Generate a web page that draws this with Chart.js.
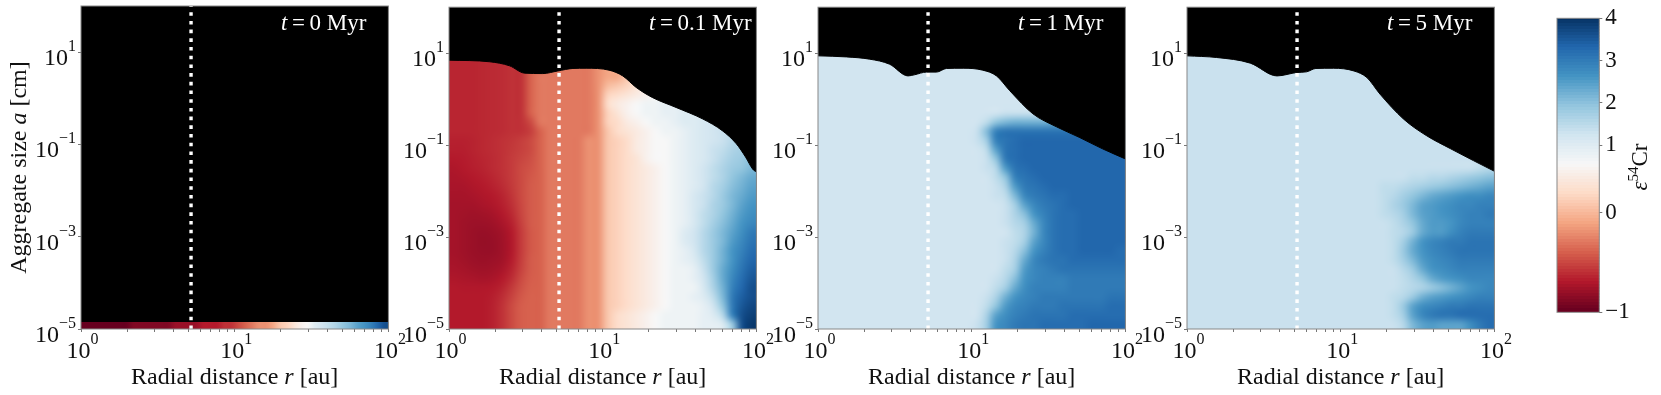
<!DOCTYPE html>
<html>
<head>
<meta charset="utf-8">
<script src="https://cdn.jsdelivr.net/npm/chart.js@4/dist/chart.umd.js"></script>
<style>
html,body{margin:0;background:#fff;}
#wrap{position:relative;width:1661px;height:395px;overflow:hidden;}
canvas{position:absolute;top:0;}
</style>
</head>
<body>
<div id="wrap"></div>
<script>
// tick values
const xTickExps = [0,1,2];
const xMinorTicks = [2,3,4,5,6,7,8,9,20,30,40,50,60,70,80,90];
const yTickExps = [-5,-3,-1,1];
const cbarTickValues = [-1,0,1,2,3,4];
const cbarTickFractions = [0,0.338,0.569,0.712,0.855,1];
const timeLabels = ['0','0.1','1','5'];
const snowLine = 5.2;

// colormap stops (RdBu)
const rdbu = ['#67001f','#b2182b','#d6604d','#f4a582','#fddbc7','#f7f7f7','#d1e5f0','#92c5de','#4393c3','#2166ac','#053061'];

// t=0: one row of cells along the bottom, epsilon x 10
const stripValues = [-10,-10,-10,-10,-10,-10,-10,-9,-9,-9,-9,-9,-9,-8,-8,-8,-8,-7,-7,-7,-6,-6,-5,-4,-3,-2,-2,-1,1,2,4,6,7,10,12,14,16,19,21,24,26,29,33,36];

// t=0.1: rows top (a=10^1) to bottom (a=10^-5), epsilon x 10
const rowsB = [
[-6.5,-6.5,-6.5,-6.4,-6.3,-6.2,-6,-6,-4,-4,-3,-3,-3,-3,-3,-2,-1,0,1,3,5,7,8,9,10,11,12,13,14,15,16,17],
[-6.5,-6.5,-6.5,-6.4,-6.3,-6.2,-6,-6,-4,-4,-3,-3,-3,-3,-3,-2,-1,0,1,3,5,7,8,9,10,11,12,13,14,15,16,17],
[-6.5,-6.5,-6.5,-6.4,-6.3,-6.2,-6,-6,-4,-3,-3,-3,-3,-3,-3,-2,-1,-1,1,4,6,7,8,9,10,11,12,13,14,15,16,17],
[-6.5,-6.5,-6.5,-6.4,-6.3,-6.2,-6,-6,-4,-3,-3,-3,-3,-3,-3,-2,0,1,2,4,6,7,8,9,10,11,12,13,14,15,16,17],
[-6.5,-6.5,-6.5,-6.4,-6.3,-6.2,-6,-6,-4,-3,-3,-3,-3,-3,-3,-2,2,3,4,5,6,7,8,9,10,11,12,13,14,15,16,17],
[-6.5,-6.5,-6.5,-6.4,-6.3,-6.2,-6,-6,-4,-3,-3,-3,-3,-3,-3,-2,3,5,6,7,8,8,9,9,10,11,12,13,14,15,16,17],
[-6.5,-6.5,-6.5,-6.4,-6.3,-6.2,-6,-6,-4,-3,-3,-3,-3,-3,-3,-2,2,4,6,7,8,8,9,9,10,10,11,12,13,14,15,16],
[-6.5,-6.5,-6.5,-6.4,-6.3,-6.2,-6,-6,-5,-3,-3,-3,-3,-3,-3,-2,2,3,5,6,7,8,8,9,10,10,11,12,13,14,15,16],
[-6.5,-6.5,-6.5,-6.4,-6.3,-6.2,-6,-6,-5.5,-4,-3,-3,-3,-3,-3,-2,1,3,4,5,6,7,8,8,9,10,11,12,13,14,15,16],
[-6.7,-6.7,-6.6,-6.4,-6.2,-6,-5.8,-5.5,-5,-4,-3,-3,-3,-3,-2,-2,1,2,3,5,6,7,7,8,9,10,11,12,13,15,16,17],
[-6.8,-6.8,-6.6,-6.4,-6.2,-6,-5.7,-5.4,-5,-4,-3,-3,-3,-3,-2,-2,1,2,3,5,6,7,7,8,9,10,11,13,14,16,17,18],
[-7,-6.9,-6.7,-6.5,-6.3,-6,-5.6,-5.2,-4.8,-4,-3,-3,-3,-3,-2,-2,1,2,3,4,6,7,7,8,9,10,11,13,15,17,18,20],
[-7.2,-7,-6.8,-6.6,-6.3,-6,-5.6,-5,-4.6,-4,-3,-3,-3,-3,-2,-2,1,2,3,4,5,6,7,8,9,10,12,14,16,18,19,21],
[-7.3,-7.2,-7,-6.8,-6.5,-6.1,-5.6,-5,-4.4,-4,-3,-3,-3,-3,-2,-2,1,2,3,4,5,6,7,8,9,10,12,14,16,19,21,23],
[-7.4,-7.4,-7.2,-7,-6.7,-6.3,-5.7,-5,-4.3,-4,-3,-3,-3,-3,-2,-2,1,2,3,4,5,6,7,8,9,10,12,15,17,20,22,24],
[-7.5,-7.5,-7.4,-7.2,-7,-6.6,-5.9,-5,-4.3,-4,-3,-3,-3,-3,-2,-2,1,2,3,4,5,6,7,8,9,11,13,15,18,21,23,25],
[-7.6,-7.6,-7.6,-7.4,-7.2,-6.8,-6.1,-5.1,-4.3,-4,-3,-3,-3,-3,-2,-2,1,2,3,4,5,6,7,8,9,11,13,16,18,21,24,26],
[-7.6,-7.7,-7.8,-7.7,-7.5,-7.1,-6.4,-5.2,-4.3,-4,-3,-3,-3,-3,-2,-2,1,2,3,4,5,6,7,8,9,11,14,16,19,22,25,27],
[-7.6,-7.8,-7.9,-7.9,-7.8,-7.4,-6.7,-5.4,-4.3,-4,-3,-3,-3,-3,-2,-2,1,2,3,4,5,6,7,8,9,11,14,17,20,23,26,28],
[-7.6,-7.8,-8,-8.1,-8,-7.7,-7,-5.6,-4.4,-4,-3,-3,-3,-3,-2,-2,1,2,3,4,5,6,7,8,10,12,15,18,21,24,27,30],
[-7.6,-7.8,-8,-8.2,-8.1,-7.8,-7.1,-5.6,-4.4,-4,-3,-3,-3,-3,-2,-2,1,2,3,4,5,6,7,8,10,12,15,18,21,25,28,31],
[-7.6,-7.8,-8,-8.1,-8.1,-7.8,-7.1,-5.6,-4.4,-4,-3,-3,-3,-3,-2,-2,1,2,3,4,5,6,7,8,9,11,15,18,22,26,29,32],
[-7.5,-7.7,-7.9,-8,-7.9,-7.7,-6.9,-5.5,-4.3,-4,-3,-3,-3,-3,-2,-2,1,2,3,4,5,6,7,8,9,10,14,18,22,26,30,33],
[-7.4,-7.5,-7.7,-7.8,-7.7,-7.4,-6.6,-5.3,-4.3,-4,-3,-3,-3,-3,-2,-2,1,2,3,4,5,6,7,8,8,9,13,18,23,27,31,34],
[-7.2,-7.3,-7.4,-7.5,-7.4,-7,-6.2,-5,-4.2,-4,-3,-3,-3,-3,-2,-2,1,2,3,4,5,6,7,8,8,9,12,17,23,28,32,35],
[-7,-7.1,-7.1,-7.1,-7,-6.6,-5.7,-4.7,-4.1,-4,-3,-3,-3,-3,-2,-2,1,2,3,4,5,6,7,8,8,8,11,16,22,29,33,36],
[-7,-7,-7,-7,-6.8,-6.2,-5.3,-4.4,-4,-4,-3,-3,-3,-3,-2,-2,1,2,3,4,5,6,7,8,8,9,10,14,21,30,34,36],
[-7,-7,-7,-7,-6.7,-6,-5,-4.2,-4,-4,-3,-3,-3,-3,-2,-2,1,2,3,4,5,6,7,8,8,8,9,12,19,30,35,37],
[-7,-7,-7,-7,-6.7,-6,-5,-4.2,-4,-4,-3,-3,-3,-3,-2,-2,1,3,4,5,6,7,8,8,8,8,9,10,15,29,36,38],
[-7,-7,-7,-7,-6.7,-6,-5,-4.2,-4,-4,-3,-3,-3,-3,-2,-2,1,3,4,5,6,7,8,8,8,8,9,9,10,18,36,39]
];

// t=1: outer 18 columns per row, inner columns sit at innerC
const innerC = 12;
const rowsC = [
[12,12,12,12,12,12,12,12,12,12,12,12,12,12,12,12,12,12],
[12,12,12,12,12,12,12,12,12,12,12,12,12,12,12,12,12,12],
[12,12,12,12,12,12,12,12,12,12,12,12,12,12,12,12,12,12],
[12,12,12,12,12,12,12,12,12,12,12,12,12,12,12,12,12,12],
[12,12,12,12,12,12,12,12,12,12,12,12,12,12,12,12,12,12],
[12,12,12,12,12,12,12,12,12,13,13,13,13,13,13,13,13,13],
[12,12,12,12,12,13,13,13,13,13,13,13,13,13,13,13,13,13],
[12,12,12,14,19,21,22,22,22,22,23,23,23,23,23,23,23,23],
[12,12,13,20,29,31,31,31,31,31,31,31,31,31,31,31,31,31],
[12,12,13,17,29,31,32,33,33,33,33,33,33,33,33,33,33,33],
[12,12,12,14,24,31,32,33,33,33,33,33,33,33,33,33,33,33],
[12,12,12,13,19,30,32,33,33,33,33,33,33,33,33,33,33,33],
[12,12,12,13,15,25,31,32,33,33,33,33,33,33,33,33,33,33],
[12,12,12,12,14,19,29,31,32,33,33,33,33,33,33,33,33,33],
[12,12,12,12,13,16,25,30,31,32,33,33,33,33,33,33,33,33],
[12,12,12,12,13,14,21,28,30,31,32,32,33,33,33,33,33,33],
[12,12,12,12,12,13,17,24,28,30,31,32,33,33,33,33,33,33],
[12,12,12,12,12,13,16,20,26,29,31,32,32,33,33,33,33,33],
[12,12,12,12,12,13,15,17,23,28,31,32,32,33,33,33,33,33],
[12,12,12,12,12,12,14,16,22,28,31,32,32,33,33,33,33,33],
[12,12,12,12,12,13,14,17,24,28,31,32,32,33,33,33,33,33],
[12,12,12,12,12,13,15,20,26,29,31,32,32,33,33,33,33,32],
[12,12,12,12,12,13,16,23,28,30,31,31,32,32,32,32,32,32],
[12,12,12,12,12,14,17,25,28,29,30,31,31,31,31,31,31,31],
[12,12,12,12,13,15,20,26,28,29,29,29,30,30,30,30,30,30],
[12,12,12,12,14,17,23,27,29,29,29,29,30,30,30,30,30,30],
[12,12,12,13,16,22,26,28,29,30,30,30,30,30,30,30,31,31],
[12,12,12,14,19,25,28,29,30,30,30,31,31,31,31,31,32,32],
[12,12,12,16,24,27,29,30,31,31,31,31,32,32,32,32,32,32],
[12,12,13,17,26,28,30,31,31,32,32,32,32,32,33,33,33,33]
];

// t=5
const innerD = 13;
const rowsD = [
[13,13,13,13,13,13,13,13,13,13,13,13,13,13,13,13,13,13],
[13,13,13,13,13,13,13,13,13,13,13,13,13,13,13,13,13,13],
[13,13,13,13,13,13,13,13,13,13,13,13,13,13,13,13,13,13],
[13,13,13,13,13,13,13,13,13,13,13,13,13,13,13,13,13,13],
[13,13,13,13,13,13,13,13,13,13,13,13,13,13,13,13,13,13],
[13,13,13,13,13,13,13,13,13,13,13,13,13,13,13,13,13,13],
[13,13,13,13,13,13,13,13,13,13,13,13,13,13,13,13,13,13],
[13,13,13,13,13,13,13,13,13,13,13,13,13,13,13,13,13,13],
[13,13,13,13,13,13,13,13,13,13,13,13,13,13,13,13,13,13],
[13,13,13,13,13,13,13,13,13,13,13,13,13,13,13,13,13,13],
[13,13,13,13,13,13,13,13,13,13,13,13,13,13,13,13,13,13],
[13,13,13,13,13,13,13,13,13,13,13,13,13,13,13,13,13,13],
[13,13,13,13,13,13,13,13,13,13,13,13,13,13,13,13,14,15],
[13,13,13,13,13,13,13,13,13,14,14,15,15,16,17,18,19,20],
[13,13,13,13,13,13,14,14,15,16,17,18,19,20,21,22,23,24],
[13,13,13,13,13,13,14,15,17,19,21,23,24,25,26,27,27,28],
[13,13,13,13,13,13,14,16,18,21,24,25,26,27,28,28,29,29],
[13,13,13,13,13,13,14,15,17,21,24,25,26,27,28,29,29,30],
[13,13,13,13,13,13,13,14,16,19,23,25,25,26,28,29,29,29],
[13,13,13,13,13,13,13,14,15,18,23,25,25,27,29,30,30,30],
[13,13,13,13,13,13,13,14,17,22,26,28,29,30,30,31,31,31],
[13,13,13,13,13,13,13,14,18,23,26,28,29,30,31,31,31,31],
[13,13,13,13,13,13,13,14,17,21,25,27,28,29,30,30,30,30],
[13,13,13,13,13,13,13,13,15,18,23,26,27,28,29,29,29,29],
[13,13,13,13,13,13,13,13,14,16,19,23,25,26,27,28,28,28],
[13,13,13,13,13,13,13,13,14,15,16,18,20,22,24,26,27,28],
[13,13,13,13,13,13,13,14,15,18,22,24,25,26,27,28,29,29],
[13,13,13,13,13,13,13,14,18,24,27,28,29,30,30,31,31,31],
[13,13,13,13,13,13,13,14,17,24,28,30,31,31,32,32,32,32],
[13,13,13,13,13,13,13,13,15,21,24,25,24,24,24,27,30,32]
];

// top edge of the populated region, radius [au] and size [cm]
const edgeRb = [1,1.84,2.48,3.1,4.08,5.1,6.4,7.8,11,13.5,16.5,21,30,44.8,60,74,85,94.6,100];
const edgeAb = [7.05,6.5,5.3,3.68,3.6,4.1,4.65,4.7,4.27,3.2,1.8,1.09,0.66,0.37,0.206,0.107,0.055,0.03,0.026];
const edgeRc = [1,1.53,2.17,2.92,3.85,4.25,5.07,5.9,6.85,8.8,11.8,14.5,17.7,25,35.6,50,71,100];
const edgeAc = [8.75,8.3,7.4,5.76,3.2,3.39,3.87,3.87,4.65,4.7,4.27,3.2,1.52,0.48,0.25,0.148,0.083,0.05];
const edgeRd = [1,1.56,2.58,3.85,5.2,6,6.9,9,12.2,14.8,18,25.6,36,52,73,100];
const edgeAd = [8.75,8.05,6.07,3.2,3.8,3.93,4.65,4.7,4.1,2.95,1.29,0.37,0.162,0.083,0.046,0.027];

const serif = '"Liberation Serif","Times New Roman",serif';
const wrap = document.getElementById('wrap');

function hexRgb(h){return [1,3,5].map(i=>parseInt(h.substr(i,2),16));}
function colorAtFraction(f){
    const p = Math.max(0,Math.min(0.9999,f))*10, i = Math.floor(p), t = p-i;
    const a = hexRgb(rdbu[i]), b = hexRgb(rdbu[i+1]);
    return 'rgb('+a.map((v,k)=>Math.round(v+(b[k]-v)*t)).join(',')+')';
}
// the colorbar is not linear in epsilon
function fractionOf(eps){
    for(let i=0;i<cbarTickValues.length-1;i++){
        if(eps<=cbarTickValues[i+1]){
            const t=(eps-cbarTickValues[i])/(cbarTickValues[i+1]-cbarTickValues[i]);
            return cbarTickFractions[i]+t*(cbarTickFractions[i+1]-cbarTickFractions[i]);
        }
    }
    return 1;
}

// draws mixed font text: runs are [text, font, raise]
function drawRuns(ctx,runs,x,y,align){
    let w=0;
    runs.forEach(r=>{ctx.font=r[1];w+=ctx.measureText(r[0]).width;});
    let cx = align==='right' ? x-w : align==='center' ? x-w/2 : x;
    runs.forEach(r=>{
        ctx.font=r[1];
        ctx.fillText(r[0],cx,y-(r[2]||0));
        cx+=ctx.measureText(r[0]).width;
    });
}
const f23 = '23px '+serif, it23 = 'italic 23px '+serif, f15 = '15px '+serif;
const f24 = '24px '+serif, it24 = 'italic 24px '+serif, f16 = '16px '+serif;
const powerRuns = e => [['10',f24],[String(e).replace('-','\u2212'),f16,14]];

const panelPlugin = {
    id:'panelPlugin',
    beforeDatasetsDraw(chart){
        const a=chart.chartArea, c=chart.ctx;
        c.save(); c.fillStyle='#000'; c.fillRect(a.left,a.top,a.width,a.height); c.restore();
    },
    afterDatasetDraw(chart,args,opts){
        // soften the cells the way the shaded original looks
        if(args.index!==2) return;
        const x=chart.scales.x, y=chart.scales.y;
        const l=x.getPixelForValue(1), r=x.getPixelForValue(100);
        const t=y.getPixelForValue(10**opts.rowTop), b=y.getPixelForValue(1e-5);
        const small=document.createElement('canvas');
        small.width=opts.cols; small.height=opts.rows;
        const s=small.getContext('2d');
        // nearest sampling picks each cell's own colour, no bleed from the black around it
        s.imageSmoothingEnabled=false;
        s.drawImage(chart.canvas,l,t,r-l,b-t,0,0,opts.cols,opts.rows);
        chart.ctx.save();
        chart.ctx.imageSmoothingEnabled=true;
        chart.ctx.imageSmoothingQuality='high';
        chart.ctx.drawImage(small,0,0,opts.cols,opts.rows,l,t,r-l,b-t);
        chart.ctx.restore();
    },
    afterDraw(chart,args,opts){
        const a=chart.chartArea, c=chart.ctx, x=chart.scales.x, y=chart.scales.y;
        c.save();
        c.strokeStyle='#888'; c.lineWidth=1;
        c.strokeRect(a.left,a.top,a.width,a.height);
        c.fillStyle='#111'; c.textBaseline='alphabetic';
        xTickExps.forEach(e=>drawRuns(c,powerRuns(e),x.getPixelForValue(10**e)+1.5,a.bottom+29,'center'));
        yTickExps.forEach(e=>drawRuns(c,powerRuns(e),a.left-5,y.getPixelForValue(10**e)+13,'right'));
        drawRuns(c,[['Radial distance ',f24],['r',it24],[' [au]',f24]],(a.left+a.right)/2,a.bottom+55,'center');
        if(opts.yTitle){
            c.save();
            c.translate(25,167.5);
            c.rotate(-Math.PI/2);
            drawRuns(c,[['Aggregate size ',f24],['a',it24],[' [cm]',f24]],0,0,'center');
            c.restore();
        }
        c.fillStyle='#fff';
        drawRuns(c,[['t',it23],['\u2009=\u2009',f23],[opts.time+' Myr',f23]],a.left+200,30,'left');
        c.restore();
    }
};

function makePanel(p){
    const canvas=document.createElement('canvas');
    canvas.width=440; canvas.height=395;
    canvas.style.left=(p.left-80)+'px';
    canvas.style.zIndex=p.z;
    wrap.appendChild(canvas);
    const nCols=p.rows[0].length, nRows=p.rows.length;
    const cells=[], colors=[];
    p.rows.forEach((row,j)=>row.forEach((v,i)=>{
        cells.push({x:10**(2*(i+0.5)/nCols), y:10**(p.rowTop-p.rowStep*(j+0.5))});
        colors.push(colorAtFraction(fractionOf(v/10)));
    }));
    const datasets=[
        {data:[{x:snowLine,y:1e-5},{x:snowLine,y:100}],showLine:true,pointRadius:0,borderColor:'#fff',borderWidth:3.4,borderDash:[3.6,5.1],order:0},
        {data:p.edgeR.map((r,i)=>({x:r,y:p.edgeA[i]})),showLine:true,pointRadius:0,borderWidth:1,borderColor:'#000',backgroundColor:'#000',fill:'end',cubicInterpolationMode:'monotone',order:1},
        {data:cells,pointStyle:'rect',pointRadius:p.cellRadius,pointBorderWidth:0,pointBackgroundColor:colors,order:2}
    ];
    return new Chart(canvas,{
        type:'scatter',
        data:{datasets:datasets},
        plugins:[panelPlugin],
        options:{
            responsive:false,animation:false,events:[],
            devicePixelRatio:1,
            layout:{padding:{left:77,right:440-80-307.4,top:6,bottom:63}},
            plugins:{
                legend:{display:false},tooltip:{enabled:false},
                panelPlugin:{cols:nCols,rows:nRows,rowTop:p.rowTop,yTitle:p.yTitle,time:p.time}
            },
            scales:{
                x:{type:'logarithmic',min:1,max:100,
                    border:{display:false},
                    grid:{drawOnChartArea:false,tickLength:3,tickColor:'#777',tickWidth:1},
                    ticks:{display:false,autoSkip:false},
                    afterBuildTicks:s=>{s.ticks=[...xTickExps.map(e=>10**e),...xMinorTicks].map(v=>({value:v}));},
                    afterFit:s=>{s.height=3;}},
                y:{type:'logarithmic',min:1e-5,max:100,
                    border:{display:false},
                    grid:{drawOnChartArea:false,tickLength:3,tickColor:'#777',tickWidth:1},
                    ticks:{display:false,autoSkip:false},
                    afterBuildTicks:s=>{s.ticks=yTickExps.map(e=>({value:10**e}));},
                    afterFit:s=>{s.width=3;}}
            }
        }
    });
}

const padLeft=(rows,base)=>rows.map(r=>[...Array(32-r.length).fill(base),...r]);

makePanel({left:80.5,z:1,time:timeLabels[0],yTitle:true,rows:[stripValues],rowTop:-4.848,rowStep:0.152,cellRadius:4.95,edgeR:[],edgeA:[]});
makePanel({left:449.3,z:2,time:timeLabels[1],rows:rowsB,rowTop:1,rowStep:0.2,cellRadius:7.2,edgeR:edgeRb,edgeA:edgeAb});
makePanel({left:818.3,z:3,time:timeLabels[2],rows:padLeft(rowsC,innerC),rowTop:1,rowStep:0.2,cellRadius:7.2,edgeR:edgeRc,edgeA:edgeAc});
makePanel({left:1186.7,z:4,time:timeLabels[3],rows:padLeft(rowsD,innerD),rowTop:1,rowStep:0.2,cellRadius:7.2,edgeR:edgeRd,edgeA:edgeAd});

// colorbar
const cbarSteps = 98;
const cbarCanvas=document.createElement('canvas');
cbarCanvas.width=121; cbarCanvas.height=395;
cbarCanvas.style.left='1540px'; cbarCanvas.style.zIndex=5;
wrap.appendChild(cbarCanvas);
const cbarSets=[];
for(let i=0;i<cbarSteps;i++){
    cbarSets.push({data:[[i/cbarSteps,Math.min(1,(i+1.3)/cbarSteps)]],backgroundColor:colorAtFraction((i+0.5)/cbarSteps),barPercentage:1,categoryPercentage:1,borderWidth:0});
}
new Chart(cbarCanvas,{
    type:'bar',
    data:{labels:[''],datasets:cbarSets},
    plugins:[{
        id:'cbarLabel',
        afterDraw(chart){
            const a=chart.chartArea,c=chart.ctx;
            c.save();
            c.strokeStyle='#888'; c.lineWidth=1;
            c.strokeRect(a.left,a.top,a.width,a.height);
            c.fillStyle='#111';
            c.translate(107,167);
            c.rotate(-Math.PI/2);
            drawRuns(c,[['\u03b5',it23],['54',f15,9],['Cr',f23]],0,0,'center');
            c.restore();
        }
    }],
    options:{
        responsive:false,animation:false,events:[],devicePixelRatio:1,
        layout:{padding:{left:17,right:0,top:18.3,bottom:82.7}},
        plugins:{legend:{display:false},tooltip:{enabled:false}},
        scales:{
            x:{display:false,stacked:true},
            y:{position:'right',min:0,max:1,
                border:{display:false},
                grid:{drawOnChartArea:false,tickLength:3,tickColor:'#777'},
                ticks:{autoSkip:false,color:'#111',padding:3,font:{family:serif,size:23},
                    callback:v=>{
                        const i=cbarTickFractions.indexOf(v);
                        return String(cbarTickValues[i]).replace('-','\u2212');
                    }},
                afterBuildTicks:s=>{s.ticks=cbarTickFractions.map(v=>({value:v}));},
                afterFit:s=>{s.width=121-17-42.3;}
            }
        }
    }
});
</script>
</body>
</html>
